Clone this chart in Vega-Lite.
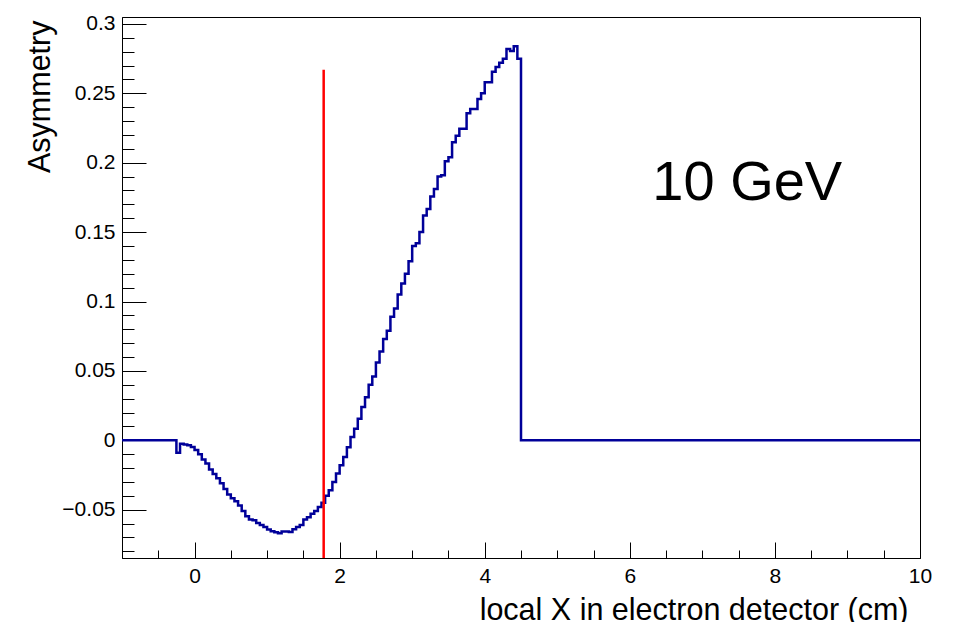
{
  "$schema": "https://vega.github.io/schema/vega-lite/v6.json",
  "width": 798,
  "height": 541,
  "autosize": "none",
  "padding": {"left": 122, "top": 17, "right": 37, "bottom": 64},
  "background": "white",
  "config": {
    "view": {"stroke": "black", "strokeWidth": 1},
    "font": "Liberation Sans",
    "axis": {
      "domainColor": "black",
      "domainWidth": 1,
      "tickColor": "black",
      "tickWidth": 1,
      "labelColor": "black",
      "titleColor": "black",
      "labelFont": "Liberation Sans",
      "titleFont": "Liberation Sans",
      "titleFontWeight": "normal",
      "grid": false
    }
  },
  "layer": [
    {
      "data": {
        "values": [
          {"x": -1.0, "y": 0}, {"x": -0.95, "y": 0}, {"x": -0.9, "y": 0}, {"x": -0.85, "y": 0},
          {"x": -0.8, "y": 0}, {"x": -0.75, "y": 0}, {"x": -0.7, "y": 0}, {"x": -0.65, "y": 0},
          {"x": -0.6, "y": 0}, {"x": -0.55, "y": 0}, {"x": -0.5, "y": 0}, {"x": -0.45, "y": 0},
          {"x": -0.4, "y": 0}, {"x": -0.35, "y": 0}, {"x": -0.3, "y": 0},
          {"x": -0.25, "y": -0.009}, {"x": -0.2, "y": -0.0024}, {"x": -0.15, "y": -0.003},
          {"x": -0.1, "y": -0.0036}, {"x": -0.05, "y": -0.0048}, {"x": 0.0, "y": -0.007},
          {"x": 0.05, "y": -0.010}, {"x": 0.1, "y": -0.0138}, {"x": 0.15, "y": -0.0167},
          {"x": 0.2, "y": -0.021}, {"x": 0.25, "y": -0.0243}, {"x": 0.3, "y": -0.0274},
          {"x": 0.35, "y": -0.031}, {"x": 0.4, "y": -0.035}, {"x": 0.45, "y": -0.039},
          {"x": 0.5, "y": -0.0417}, {"x": 0.55, "y": -0.044}, {"x": 0.6, "y": -0.047},
          {"x": 0.65, "y": -0.051}, {"x": 0.7, "y": -0.0548}, {"x": 0.75, "y": -0.057},
          {"x": 0.8, "y": -0.0576}, {"x": 0.85, "y": -0.0595}, {"x": 0.9, "y": -0.061},
          {"x": 0.95, "y": -0.0624}, {"x": 1.0, "y": -0.0643}, {"x": 1.05, "y": -0.0655},
          {"x": 1.1, "y": -0.0662}, {"x": 1.15, "y": -0.067}, {"x": 1.2, "y": -0.0657},
          {"x": 1.25, "y": -0.0657}, {"x": 1.3, "y": -0.066}, {"x": 1.35, "y": -0.064},
          {"x": 1.4, "y": -0.0624}, {"x": 1.45, "y": -0.061}, {"x": 1.5, "y": -0.057},
          {"x": 1.55, "y": -0.0555}, {"x": 1.6, "y": -0.053}, {"x": 1.65, "y": -0.051},
          {"x": 1.7, "y": -0.048}, {"x": 1.75, "y": -0.045}, {"x": 1.8, "y": -0.040},
          {"x": 1.85, "y": -0.036}, {"x": 1.9, "y": -0.030}, {"x": 1.95, "y": -0.024},
          {"x": 2.0, "y": -0.018}, {"x": 2.05, "y": -0.012}, {"x": 2.1, "y": -0.005},
          {"x": 2.15, "y": 0.0024}, {"x": 2.2, "y": 0.0083}, {"x": 2.25, "y": 0.0155},
          {"x": 2.3, "y": 0.024}, {"x": 2.35, "y": 0.031}, {"x": 2.4, "y": 0.040},
          {"x": 2.45, "y": 0.046}, {"x": 2.5, "y": 0.056}, {"x": 2.55, "y": 0.064},
          {"x": 2.6, "y": 0.073}, {"x": 2.65, "y": 0.079}, {"x": 2.7, "y": 0.089},
          {"x": 2.75, "y": 0.095}, {"x": 2.8, "y": 0.105}, {"x": 2.85, "y": 0.113},
          {"x": 2.9, "y": 0.120}, {"x": 2.95, "y": 0.129}, {"x": 3.0, "y": 0.140},
          {"x": 3.05, "y": 0.142}, {"x": 3.1, "y": 0.150}, {"x": 3.15, "y": 0.162},
          {"x": 3.2, "y": 0.1667}, {"x": 3.25, "y": 0.1757}, {"x": 3.3, "y": 0.181},
          {"x": 3.35, "y": 0.190}, {"x": 3.4, "y": 0.191}, {"x": 3.45, "y": 0.201},
          {"x": 3.5, "y": 0.204}, {"x": 3.55, "y": 0.2148}, {"x": 3.6, "y": 0.2195},
          {"x": 3.65, "y": 0.2245}, {"x": 3.7, "y": 0.2245}, {"x": 3.75, "y": 0.2357},
          {"x": 3.8, "y": 0.2388}, {"x": 3.85, "y": 0.2388}, {"x": 3.9, "y": 0.246},
          {"x": 3.95, "y": 0.250}, {"x": 4.0, "y": 0.258}, {"x": 4.05, "y": 0.258},
          {"x": 4.1, "y": 0.2655}, {"x": 4.15, "y": 0.269}, {"x": 4.2, "y": 0.272},
          {"x": 4.25, "y": 0.275}, {"x": 4.3, "y": 0.282}, {"x": 4.35, "y": 0.2805},
          {"x": 4.4, "y": 0.284}, {"x": 4.45, "y": 0.275},
          {"x": 4.5, "y": 0}, {"x": 4.55, "y": 0}, {"x": 4.6, "y": 0}, {"x": 4.65, "y": 0},
          {"x": 4.7, "y": 0}, {"x": 4.75, "y": 0}, {"x": 4.8, "y": 0}, {"x": 4.85, "y": 0},
          {"x": 4.9, "y": 0}, {"x": 4.95, "y": 0}, {"x": 5.0, "y": 0}, {"x": 5.05, "y": 0},
          {"x": 5.1, "y": 0}, {"x": 5.15, "y": 0}, {"x": 5.2, "y": 0}, {"x": 5.25, "y": 0},
          {"x": 5.3, "y": 0}, {"x": 5.35, "y": 0}, {"x": 5.4, "y": 0}, {"x": 5.45, "y": 0},
          {"x": 5.5, "y": 0}, {"x": 5.55, "y": 0}, {"x": 5.6, "y": 0}, {"x": 5.65, "y": 0},
          {"x": 5.7, "y": 0}, {"x": 5.75, "y": 0}, {"x": 5.8, "y": 0}, {"x": 5.85, "y": 0},
          {"x": 5.9, "y": 0}, {"x": 5.95, "y": 0}, {"x": 6.0, "y": 0}, {"x": 6.05, "y": 0},
          {"x": 6.1, "y": 0}, {"x": 6.15, "y": 0}, {"x": 6.2, "y": 0}, {"x": 6.25, "y": 0},
          {"x": 6.3, "y": 0}, {"x": 6.35, "y": 0}, {"x": 6.4, "y": 0}, {"x": 6.45, "y": 0},
          {"x": 6.5, "y": 0}, {"x": 6.55, "y": 0}, {"x": 6.6, "y": 0}, {"x": 6.65, "y": 0},
          {"x": 6.7, "y": 0}, {"x": 6.75, "y": 0}, {"x": 6.8, "y": 0}, {"x": 6.85, "y": 0},
          {"x": 6.9, "y": 0}, {"x": 6.95, "y": 0}, {"x": 7.0, "y": 0}, {"x": 7.05, "y": 0},
          {"x": 7.1, "y": 0}, {"x": 7.15, "y": 0}, {"x": 7.2, "y": 0}, {"x": 7.25, "y": 0},
          {"x": 7.3, "y": 0}, {"x": 7.35, "y": 0}, {"x": 7.4, "y": 0}, {"x": 7.45, "y": 0},
          {"x": 7.5, "y": 0}, {"x": 7.55, "y": 0}, {"x": 7.6, "y": 0}, {"x": 7.65, "y": 0},
          {"x": 7.7, "y": 0}, {"x": 7.75, "y": 0}, {"x": 7.8, "y": 0}, {"x": 7.85, "y": 0},
          {"x": 7.9, "y": 0}, {"x": 7.95, "y": 0}, {"x": 8.0, "y": 0}, {"x": 8.05, "y": 0},
          {"x": 8.1, "y": 0}, {"x": 8.15, "y": 0}, {"x": 8.2, "y": 0}, {"x": 8.25, "y": 0},
          {"x": 8.3, "y": 0}, {"x": 8.35, "y": 0}, {"x": 8.4, "y": 0}, {"x": 8.45, "y": 0},
          {"x": 8.5, "y": 0}, {"x": 8.55, "y": 0}, {"x": 8.6, "y": 0}, {"x": 8.65, "y": 0},
          {"x": 8.7, "y": 0}, {"x": 8.75, "y": 0}, {"x": 8.8, "y": 0}, {"x": 8.85, "y": 0},
          {"x": 8.9, "y": 0}, {"x": 8.95, "y": 0}, {"x": 9.0, "y": 0}, {"x": 9.05, "y": 0},
          {"x": 9.1, "y": 0}, {"x": 9.15, "y": 0}, {"x": 9.2, "y": 0}, {"x": 9.25, "y": 0},
          {"x": 9.3, "y": 0}, {"x": 9.35, "y": 0}, {"x": 9.4, "y": 0}, {"x": 9.45, "y": 0},
          {"x": 9.5, "y": 0}, {"x": 9.55, "y": 0}, {"x": 9.6, "y": 0}, {"x": 9.65, "y": 0},
          {"x": 9.7, "y": 0}, {"x": 9.75, "y": 0}, {"x": 9.8, "y": 0}, {"x": 9.85, "y": 0},
          {"x": 9.9, "y": 0}, {"x": 9.95, "y": 0}, {"x": 10.0, "y": 0}
        ]
      },
      "mark": {"type": "line", "interpolate": "step-after", "color": "#000099", "strokeWidth": 2.5, "clip": true},
      "encoding": {
        "x": {
          "field": "x", "type": "quantitative",
          "scale": {"domain": [-1, 10], "nice": false, "zero": false},
          "axis": {
            "orient": "bottom", "title": "local X in electron detector (cm)",
            "values": [0, 2, 4, 6, 8, 10], "format": "d",
            "tickSize": -16, "labelPadding": 23, "labelFontSize": 21, "labelFlush": false,
            "titleFontSize": 30.5, "titleAlign": "right", "titleBaseline": "alphabetic",
            "titleX": 786, "titleY": 61, "titleAnchor": null
          }
        },
        "y": {
          "field": "y", "type": "quantitative",
          "scale": {"domain": [-0.0848, 0.305], "nice": false, "zero": false},
          "axis": {
            "orient": "left", "title": "Asymmetry",
            "values": [-0.05, 0, 0.05, 0.1, 0.15, 0.2, 0.25, 0.3], "format": "~g",
            "tickSize": -24, "labelPadding": 31, "labelFontSize": 21, "labelFlush": false,
            "titleFontSize": 30.5, "titleAngle": 270, "titleAlign": "right", "titleBaseline": "alphabetic",
            "titleX": -73, "titleY": 3, "titleAnchor": null
          }
        }
      }
    },
    {
      "data": {"values": [{"x": 1.78, "y": -0.0848, "y2": 0.267}]},
      "mark": {"type": "rule", "color": "#ff0000", "strokeWidth": 2.5},
      "encoding": {
        "x": {
          "field": "x", "type": "quantitative",
          "axis": {
            "orient": "bottom", "title": null, "labels": false, "domain": false,
            "values": [-0.5, 0.5, 1, 1.5, 2.5, 3, 3.5, 4.5, 5, 5.5, 6.5, 7, 7.5, 8.5, 9, 9.5],
            "tickSize": -8
          }
        },
        "y": {
          "field": "y", "type": "quantitative",
          "axis": {
            "orient": "left", "title": null, "labels": false, "domain": false,
            "values": [-0.08, -0.07, -0.06, -0.04, -0.03, -0.02, -0.01, 0.01, 0.02, 0.03, 0.04, 0.06, 0.07, 0.08, 0.09, 0.11, 0.12, 0.13, 0.14, 0.16, 0.17, 0.18, 0.19, 0.21, 0.22, 0.23, 0.24, 0.26, 0.27, 0.28, 0.29],
            "tickSize": -12
          }
        },
        "y2": {"field": "y2"}
      }
    },
    {
      "data": {"values": [{"x": 6.31, "y": 0.173, "label": "10 GeV"}]},
      "mark": {"type": "text", "fontSize": 56, "align": "left", "baseline": "alphabetic", "font": "Liberation Sans", "color": "black"},
      "encoding": {
        "x": {"field": "x", "type": "quantitative", "axis": null},
        "y": {"field": "y", "type": "quantitative", "axis": null},
        "text": {"field": "label"}
      }
    }
  ],
  "resolve": {"axis": {"x": "independent", "y": "independent"}}
}
